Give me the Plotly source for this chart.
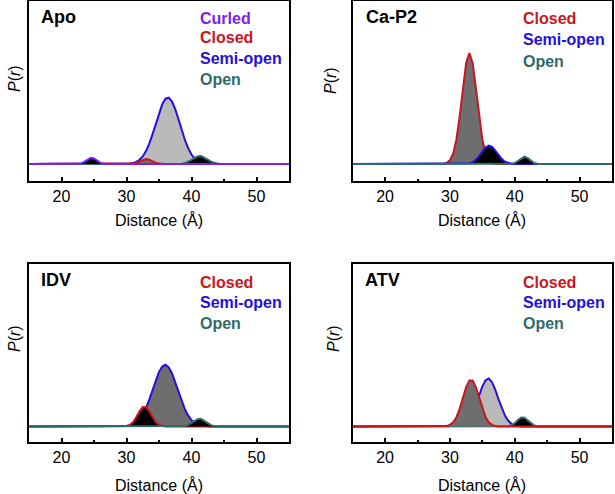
import plotly.graph_objects as go

# P(r) curves (distance in Angstrom, 0.5 A steps)
apo_curled_x = [22.5, 23, 23.5, 24, 24.5, 25, 25.5, 26, 26.5, 27]
apo_curled_y = [0.001, 0.006, 0.021, 0.046, 0.062, 0.055, 0.031, 0.011, 0.003, 0.0]
apo_closed_x = [30.5, 31, 31.5, 32, 32.5, 33, 33.5, 34, 34.5, 35, 35.5]
apo_closed_y = [0.001, 0.004, 0.012, 0.027, 0.043, 0.05, 0.043, 0.027, 0.012, 0.004, 0.001]
apo_semi_x = [30, 30.5, 31, 31.5, 32, 32.5, 33, 33.5, 34, 34.5, 35, 35.5, 36, 36.5,
              37, 37.5, 38, 38.5, 39, 39.5, 40, 40.5, 41, 41.5, 42, 42.5]
apo_semi_y = [0.002, 0.004, 0.010, 0.021, 0.042, 0.076, 0.129, 0.203, 0.297, 0.403, 0.510,
              0.599, 0.653, 0.663, 0.625, 0.548, 0.447, 0.339, 0.238, 0.156, 0.095, 0.054,
              0.028, 0.014, 0.006, 0.003]
apo_open_x = [38, 38.5, 39, 39.5, 40, 40.5, 41, 41.5, 42, 42.5, 43, 43.5, 44, 44.5]
apo_open_y = [0.001, 0.003, 0.009, 0.021, 0.040, 0.061, 0.077, 0.079, 0.065, 0.044,
              0.024, 0.011, 0.004, 0.001]

cap2_closed_x = [29.5, 30, 30.5, 31, 31.5, 32, 32.5, 33, 33.5, 34, 34.5, 35, 35.5, 36, 36.5]
cap2_closed_y = [0.011, 0.037, 0.104, 0.245, 0.474, 0.761, 1.010, 1.11, 1.010, 0.761,
                 0.474, 0.245, 0.104, 0.037, 0.011]
cap2_semi_x = [32.5, 33, 33.5, 34, 34.5, 35, 35.5, 36, 36.5, 37, 37.5, 38, 38.5, 39, 39.5]
cap2_semi_y = [0.002, 0.007, 0.019, 0.043, 0.079, 0.125, 0.165, 0.183, 0.171, 0.134,
               0.088, 0.049, 0.023, 0.009, 0.003]
cap2_open_x = [39.5, 40, 40.5, 41, 41.5, 42, 42.5, 43, 43.5]
cap2_open_y = [0.002, 0.010, 0.030, 0.058, 0.073, 0.058, 0.030, 0.010, 0.002]

idv_closed_x = [29.5, 30, 30.5, 31, 31.5, 32, 32.5, 33, 33.5, 34, 34.5, 35, 35.5, 36]
idv_closed_y = [0.001, 0.005, 0.016, 0.043, 0.092, 0.151, 0.194, 0.194, 0.151, 0.092,
                0.043, 0.016, 0.005, 0.001]
idv_semi_x = [29.5, 30, 30.5, 31, 31.5, 32, 32.5, 33, 33.5, 34, 34.5, 35, 35.5, 36, 36.5,
              37, 37.5, 38, 38.5, 39, 39.5, 40, 40.5, 41, 41.5, 42, 42.5]
idv_semi_y = [0.002, 0.005, 0.010, 0.021, 0.040, 0.071, 0.119, 0.185, 0.269, 0.364, 0.461,
              0.545, 0.600, 0.617, 0.592, 0.530, 0.442, 0.345, 0.251, 0.170, 0.108, 0.064,
              0.035, 0.018, 0.009, 0.004, 0.002]
idv_open_x = [38.5, 39, 39.5, 40, 40.5, 41, 41.5, 42, 42.5, 43, 43.5, 44]
idv_open_y = [0.001, 0.005, 0.016, 0.035, 0.059, 0.076, 0.074, 0.055, 0.031, 0.013, 0.004, 0.001]

atv_closed_x = [29.5, 30, 30.5, 31, 31.5, 32, 32.5, 33, 33.5, 34, 34.5, 35, 35.5, 36, 36.5, 37]
atv_closed_y = [0.005, 0.016, 0.042, 0.093, 0.176, 0.285, 0.393, 0.461, 0.461, 0.393,
                0.285, 0.176, 0.093, 0.042, 0.016, 0.005]
atv_semi_x = [31.5, 32, 32.5, 33, 33.5, 34, 34.5, 35, 35.5, 36, 36.5, 37, 37.5, 38, 38.5,
              39, 39.5, 40, 40.5]
atv_semi_y = [0.006, 0.016, 0.037, 0.074, 0.133, 0.215, 0.310, 0.401, 0.463, 0.479, 0.443,
              0.367, 0.272, 0.180, 0.107, 0.057, 0.027, 0.011, 0.004]
atv_open_x = [38.5, 39, 39.5, 40, 40.5, 41, 41.5, 42, 42.5, 43, 43.5]
atv_open_y = [0.001, 0.003, 0.013, 0.034, 0.066, 0.090, 0.087, 0.060, 0.029, 0.010, 0.002]

x_ticks = [20, 30, 40, 50]
x_minor = [25, 35, 45]

CURLED = '#7b1fef'
CLOSED = '#c8161d'
SEMI = '#2410dd'
OPEN = '#2f6b68'
LIGHT = '#bababa'
DARK = '#6e6e6e'
BLACK = '#000000'
FONT = 'Liberation Sans, Arial, sans-serif'

W, H = 615, 494


def full(x, y):
    # put the curve on the flat baseline that runs across the whole axis
    return [15, x[0] - 0.5] + x + [x[-1] + 0.5, 55], [0, 0] + y + [0, 0]


def curve(x, y, line, fill, n):
    xs, ys = full(x, y)
    return go.Scatter(x=xs, y=ys, mode='lines', fill='tozeroy', fillcolor=fill,
                      line=dict(color=line, width=2), showlegend=False,
                      xaxis='x' + ('' if n == 1 else str(n)),
                      yaxis='y' + ('' if n == 1 else str(n)))


fig = go.Figure()
# Apo
fig.add_trace(curve(apo_semi_x, apo_semi_y, SEMI, LIGHT, 1))
fig.add_trace(curve(apo_closed_x, apo_closed_y, CLOSED, DARK, 1))
fig.add_trace(curve(apo_open_x, apo_open_y, OPEN, BLACK, 1))
fig.add_trace(curve(apo_curled_x, apo_curled_y, CURLED, BLACK, 1))
# Ca-P2
fig.add_trace(curve(cap2_closed_x, cap2_closed_y, CLOSED, DARK, 2))
fig.add_trace(curve(cap2_semi_x, cap2_semi_y, SEMI, BLACK, 2))
fig.add_trace(curve(cap2_open_x, cap2_open_y, OPEN, BLACK, 2))
# IDV
fig.add_trace(curve(idv_semi_x, idv_semi_y, SEMI, DARK, 3))
fig.add_trace(curve(idv_closed_x, idv_closed_y, CLOSED, BLACK, 3))
fig.add_trace(curve(idv_open_x, idv_open_y, OPEN, BLACK, 3))
# ATV
fig.add_trace(curve(atv_semi_x, atv_semi_y, SEMI, LIGHT, 4))
fig.add_trace(curve(atv_open_x, atv_open_y, OPEN, BLACK, 4))
fig.add_trace(curve(atv_closed_x, atv_closed_y, CLOSED, DARK, 4))

left = [29 / W, 289 / W]
right = [352.7 / W, 612 / W]
top = [1 - 181 / H, 1 - 1 / H]
bottom = [1 - 442 / H, 1 - 264 / H]

xax = dict(range=[15, 55], tickvals=x_ticks, ticks='inside', ticklen=4, tickwidth=1.5,
           tickcolor='black', showline=True, linecolor='black', linewidth=2, mirror=True,
           showgrid=False, zeroline=False,
           minor=dict(tickvals=x_minor, ticks='inside', ticklen=2, tickwidth=1.5,
                      tickcolor='black', showgrid=False),
           tickfont=dict(family=FONT, size=16, color='black'))
yax = dict(showticklabels=False, ticks='', showline=True, linecolor='black', linewidth=2,
           mirror=True, showgrid=False, zeroline=False)

fig.update_layout(
    width=W, height=H, margin=dict(l=0, r=0, t=0, b=0),
    paper_bgcolor='white', plot_bgcolor='white',
    xaxis=dict(xax, domain=left, anchor='y'),
    yaxis=dict(yax, domain=top, anchor='x', range=[-0.17, 1.63]),
    xaxis2=dict(xax, domain=right, anchor='y2'),
    yaxis2=dict(yax, domain=top, anchor='x2', range=[-0.17, 1.63]),
    xaxis3=dict(xax, domain=left, anchor='y3'),
    yaxis3=dict(yax, domain=bottom, anchor='x3', range=[-0.155, 1.625]),
    xaxis4=dict(xax, domain=right, anchor='y4'),
    yaxis4=dict(yax, domain=bottom, anchor='x4', range=[-0.155, 1.625]),
)


def text(x, y, s, size=16, color='black', bold=False, anchor='left', angle=0):
    fig.add_annotation(x=x / W, y=1 - y / H, xref='paper', yref='paper', text=s,
                       showarrow=False, xanchor=anchor, yanchor='middle', textangle=angle,
                       font=dict(family=FONT, size=size, color=color,
                                 weight='bold' if bold else 'normal'))


# panel names
text(39, 17, 'Apo', 18, bold=True)
text(364, 17, 'Ca-P2', 18, bold=True)
text(39, 280, 'IDV', 18, bold=True)
text(363, 280, 'ATV', 18, bold=True)

# state labels
for lab, col, yy in [('Curled', CURLED, 18), ('Closed', CLOSED, 38),
                     ('Semi-open', SEMI, 58), ('Open', OPEN, 79)]:
    text(198, yy, lab, 16, col, True)
for lab, col, yy in [('Closed', CLOSED, 19), ('Semi-open', SEMI, 40), ('Open', OPEN, 61)]:
    text(521, yy, lab, 16, col, True)
for lab, col, yy in [('Closed', CLOSED, 282), ('Semi-open', SEMI, 302), ('Open', OPEN, 323)]:
    text(198, yy, lab, 16, col, True)
    text(521, yy, lab, 16, col, True)

# axis titles
for cx, ty in [(159, 220), (482, 220), (159, 485), (482, 485)]:
    text(cx, ty, 'Distance (Å)', 16, anchor='center')
for px, py in [(14, 79), (330, 81), (14, 339), (333, 339)]:
    text(px, py, '<i>P</i>(<i>r</i>)', 16, anchor='center', angle=-90)

# page body has a default 8px margin; drop it so the figure fills the window
fig.write_html("out.html", config={'displayModeBar': False},
               post_script="document.body.style.margin='0';")
